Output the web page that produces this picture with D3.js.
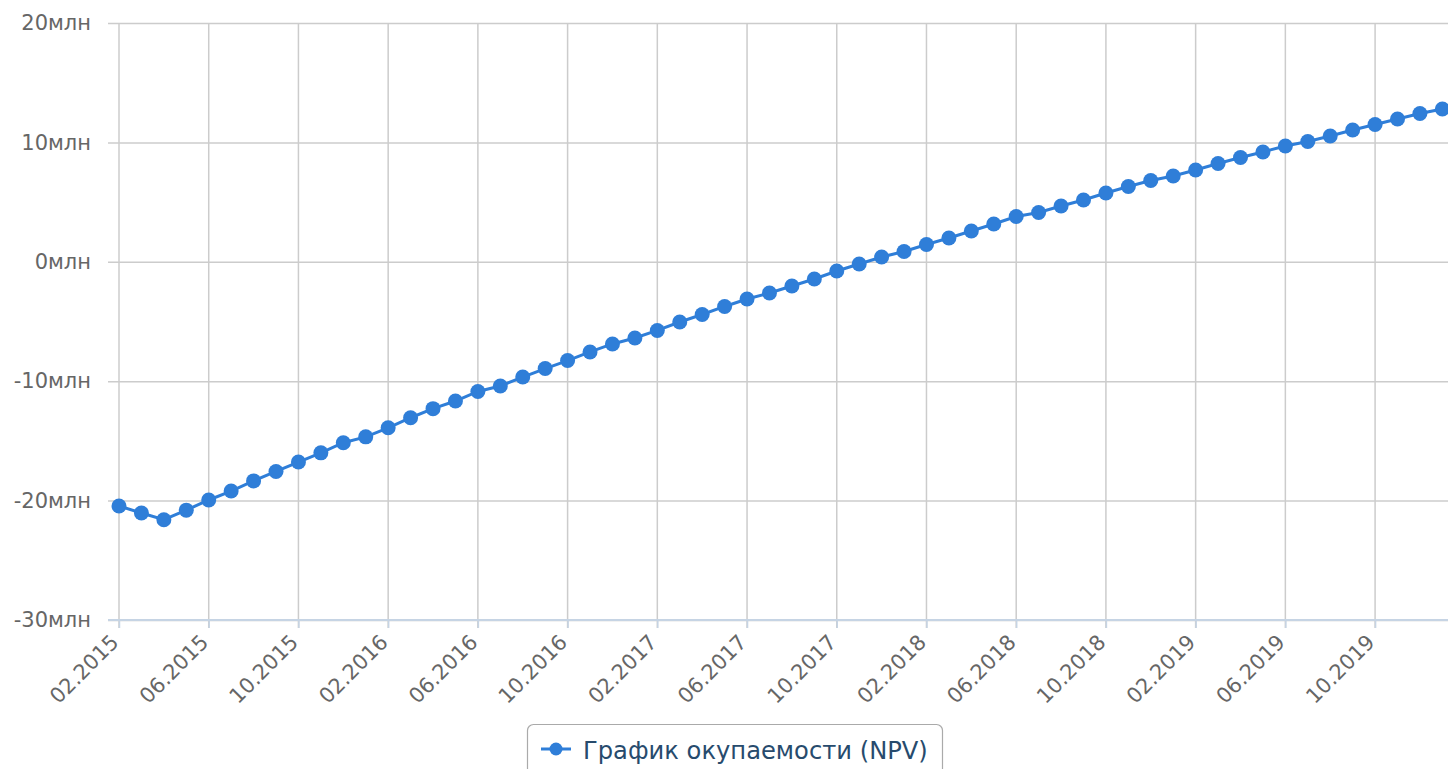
<!DOCTYPE html>
<html>
<head>
<meta charset="utf-8">
<script src="https://cdnjs.cloudflare.com/ajax/libs/d3/7.8.5/d3.min.js"></script>
<style>
  body { margin: 0; background: #fff; overflow: hidden; }
  text { font-family: "DejaVu Sans", sans-serif; }
  .grid line { stroke: #cccccc; stroke-width: 1.5; }
</style>
</head>
<body>
<div id="chart"></div>
<script>
// NPV по месяцам, млн
const startMonth = new Date(2015, 1, 1);
const endMonth = new Date(2020, 1, 1);
const npv = [
  -20.45, -21.04, -21.6, -20.8, -19.95, -19.2, -18.35, -17.56, -16.77, -16.0,
  -15.15, -14.66, -13.9, -13.06, -12.3, -11.66, -10.86, -10.4, -9.65, -8.94,
  -8.27, -7.55, -6.88, -6.38, -5.75, -5.04, -4.41, -3.74, -3.12, -2.61,
  -2.03, -1.44, -0.77, -0.18, 0.4, 0.86, 1.45, 1.99, 2.58, 3.17,
  3.79, 4.13, 4.67, 5.18, 5.76, 6.31, 6.81, 7.19, 7.69, 8.23,
  8.74, 9.2, 9.7, 10.08, 10.54, 11.04, 11.5, 11.96, 12.42, 12.8
];
const yTicks = [-30, -20, -10, 0, 10, 20];
const seriesName = "График окупаемости (NPV)";

const fmt = d3.timeFormat("%m.%Y");
const months = d3.timeMonths(startMonth, endMonth).map(fmt);
const tickMonths = months.filter((d, i) => i % 4 === 0);

const width = 1448, height = 769;
const plotLeft = 119, plotTop = 23, plotBottom = 620;
const step = 22.43;
const blue = "#2f7ed8";

const svg = d3.select("#chart").append("svg")
  .attr("width", width)
  .attr("height", height);

const x = d3.scalePoint().domain(months).range([plotLeft, plotLeft + step * (months.length - 1)]);
const y = d3.scaleLinear().domain([-30, 20]).range([plotBottom, plotTop]);

// horizontal grid + y labels
const yAxis = d3.axisLeft(y).tickValues(yTicks).tickSize(11).tickPadding(17)
  .tickFormat(d => d + "млн");
const gy = svg.append("g").attr("class", "grid")
  .attr("transform", "translate(" + plotLeft + ",0)")
  .call(yAxis);
gy.select(".domain").remove();
gy.selectAll(".tick line").attr("x2", width - plotLeft + 11).attr("x1", -11);
gy.selectAll(".tick text").attr("fill", "#666").attr("font-size", 21);

// vertical grid
svg.append("g").attr("class", "grid")
  .selectAll("line").data(tickMonths).enter().append("line")
  .attr("x1", d => x(d)).attr("x2", d => x(d))
  .attr("y1", plotTop).attr("y2", plotBottom + 8);

// x axis
const xAxis = d3.axisBottom(x).tickValues(tickMonths).tickSize(8).tickPadding(0);
const gx = svg.append("g")
  .attr("transform", "translate(0," + plotBottom + ")")
  .call(xAxis);
gx.select(".domain").attr("stroke", "#c6d4e4").attr("stroke-width", 2).attr("d", "M" + (plotLeft - 11) + ",0H" + width);
gx.selectAll(".tick line").attr("stroke", "#c6d4e4").attr("stroke-width", 1.5);
gx.selectAll(".tick text")
  .attr("fill", "#666")
  .attr("font-size", 21)
  .attr("text-anchor", "end")
  .attr("y", 0)
  .attr("dy", "0.3em")
  .attr("transform", "translate(-4,19) rotate(-45)");

// line + markers
const line = d3.line().x((d, i) => x(months[i])).y(d => y(d));
svg.append("path").datum(npv)
  .attr("d", line)
  .attr("fill", "none")
  .attr("stroke", blue)
  .attr("stroke-width", 3);

svg.append("g").selectAll("circle").data(npv).enter().append("circle")
  .attr("cx", (d, i) => x(months[i]))
  .attr("cy", d => y(d))
  .attr("r", 7.5)
  .attr("fill", blue);

// legend
const lg = svg.append("g").attr("transform", "translate(527,724)");
lg.append("rect")
  .attr("x", 0.5).attr("y", 0.5)
  .attr("width", 415).attr("height", 60)
  .attr("rx", 6)
  .attr("fill", "#fff")
  .attr("stroke", "#aaaaaa")
  .attr("stroke-width", 1.2);
lg.append("line")
  .attr("x1", 14).attr("x2", 44).attr("y1", 25).attr("y2", 25)
  .attr("stroke", blue).attr("stroke-width", 3);
lg.append("circle").attr("cx", 29).attr("cy", 25).attr("r", 6.5).attr("fill", blue);
lg.append("text")
  .attr("x", 56).attr("y", 35)
  .attr("font-size", 24.2)
  .attr("fill", "#274b6d")
  .text(seriesName);
</script>
</body>
</html>
